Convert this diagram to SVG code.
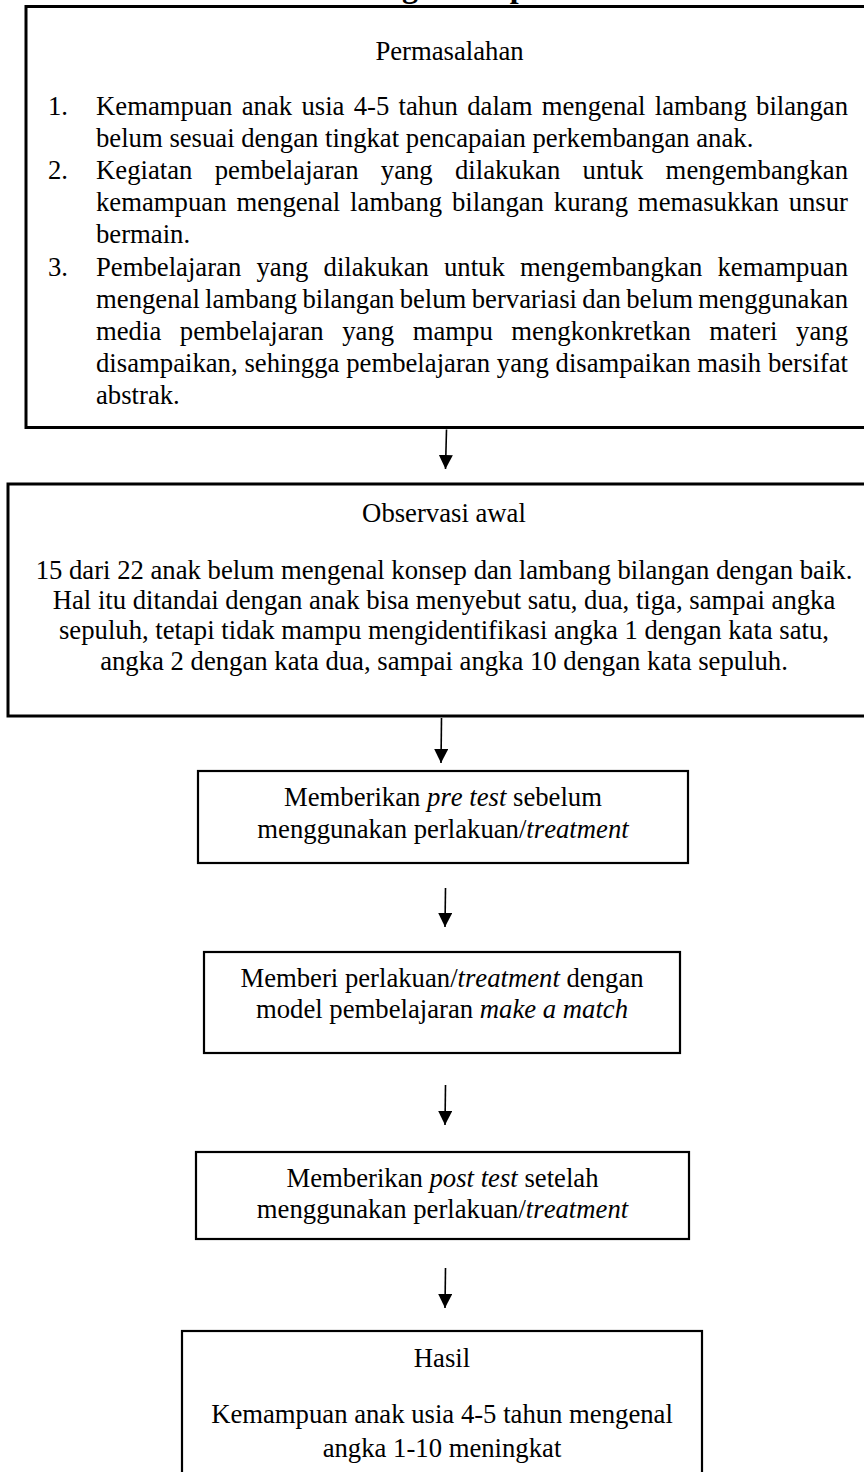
<svg xmlns="http://www.w3.org/2000/svg" width="864" height="1472" viewBox="0 0 864 1472">
<style>
text{font-family:"Liberation Serif","Times New Roman",serif;font-size:26.7px;fill:#000;font-kerning:none}
.c{text-anchor:middle}
.i{font-style:italic}
.box{fill:#fff;stroke:#000}
.big{stroke-width:3}
.sm{stroke-width:2.2}
.title{font-weight:bold;font-size:32px}
.conn line{stroke:#000;stroke-width:1.6}
</style>
<defs>
<marker id="ah" markerUnits="userSpaceOnUse" markerWidth="14" markerHeight="14" refX="14" refY="7" orient="auto" viewBox="0 0 14 14"><path d="M0,0 L14,7 L0,14 z" fill="#000"/></marker>
</defs>
<rect width="864" height="1472" fill="#fff"/>
<text class="title" x="315" y="-3">Kerangka Berpikir</text>

<g id="permasalahan">
<rect class="box big" x="26" y="6.5" width="860" height="421"/>
<text class="c" x="449.5" y="60">Permasalahan</text>
<text x="48" y="115">1.</text>
<text x="96" y="115" textLength="752" lengthAdjust="spacing" style="word-spacing:2.6px">Kemampuan anak usia 4-5 tahun dalam mengenal lambang bilangan</text>
<text x="96" y="147.1">belum sesuai dengan tingkat pencapaian perkembangan anak.</text>
<text x="48" y="179.2">2.</text>
<text x="96" y="179.2" textLength="752" lengthAdjust="spacing" style="word-spacing:15.6px">Kegiatan pembelajaran yang dilakukan untuk mengembangkan</text>
<text x="96" y="211.3" textLength="752" lengthAdjust="spacing" style="word-spacing:3.2px">kemampuan mengenal lambang bilangan kurang memasukkan unsur</text>
<text x="96" y="243.4">bermain.</text>
<text x="48" y="275.5">3.</text>
<text x="96" y="275.5" textLength="752" lengthAdjust="spacing" style="word-spacing:8.5px">Pembelajaran yang dilakukan untuk mengembangkan kemampuan</text>
<text x="96" y="307.6" textLength="752" lengthAdjust="spacing" style="word-spacing:-1.36px">mengenal lambang bilangan belum bervariasi dan belum menggunakan</text>
<text x="96" y="339.7" textLength="752" lengthAdjust="spacing" style="word-spacing:11.9px">media pembelajaran yang mampu mengkonkretkan materi yang</text>
<text x="96" y="371.8" textLength="752" lengthAdjust="spacing" style="word-spacing:0.14px">disampaikan, sehingga pembelajaran yang disampaikan masih bersifat</text>
<text x="96" y="403.9">abstrak.</text>
</g>

<g id="observasi">
<rect class="box big" x="8" y="484" width="880" height="232"/>
<text class="c" x="444" y="522">Observasi awal</text>
<text class="c" x="444" y="579">15 dari 22 anak belum mengenal konsep dan lambang bilangan dengan baik.</text>
<text class="c" x="444" y="609">Hal itu ditandai dengan anak bisa menyebut satu, dua, tiga, sampai angka</text>
<text class="c" x="444" y="639">sepuluh, tetapi tidak mampu mengidentifikasi angka 1 dengan kata satu,</text>
<text class="c" x="444" y="670">angka 2 dengan kata dua, sampai angka 10 dengan kata sepuluh.</text>
</g>

<g id="pretest">
<rect class="box sm" x="198" y="771" width="490" height="92"/>
<text class="c" x="443" y="806">Memberikan <tspan class="i">pre test</tspan> sebelum</text>
<text class="c" x="443" y="838">menggunakan perlakuan/<tspan class="i">treatment</tspan></text>
</g>

<g id="treatment">
<rect class="box sm" x="204" y="952" width="476" height="101"/>
<text class="c" x="442" y="987">Memberi perlakuan/<tspan class="i">treatment</tspan> dengan</text>
<text class="c" x="442" y="1018">model pembelajaran <tspan class="i">make a match</tspan></text>
</g>

<g id="posttest">
<rect class="box sm" x="196" y="1152" width="493" height="87"/>
<text class="c" x="442.5" y="1187">Memberikan <tspan class="i">post test</tspan> setelah</text>
<text class="c" x="442.5" y="1218">menggunakan perlakuan/<tspan class="i">treatment</tspan></text>
</g>

<g id="hasil">
<rect class="box sm" x="182" y="1331" width="520" height="160"/>
<text class="c" x="442" y="1367">Hasil</text>
<text class="c" x="442" y="1423">Kemampuan anak usia 4-5 tahun mengenal</text>
<text class="c" x="442" y="1457">angka 1-10 meningkat</text>
</g>

<g id="connectors" class="conn">
<line x1="446.5" y1="429.5" x2="445.5" y2="469" marker-end="url(#ah)"/>
<line x1="441.5" y1="718" x2="441" y2="763" marker-end="url(#ah)"/>
<line x1="445.5" y1="888" x2="445" y2="927" marker-end="url(#ah)"/>
<line x1="445.5" y1="1085" x2="445" y2="1125" marker-end="url(#ah)"/>
<line x1="445.5" y1="1268" x2="445" y2="1308" marker-end="url(#ah)"/>
</g>
</svg>
